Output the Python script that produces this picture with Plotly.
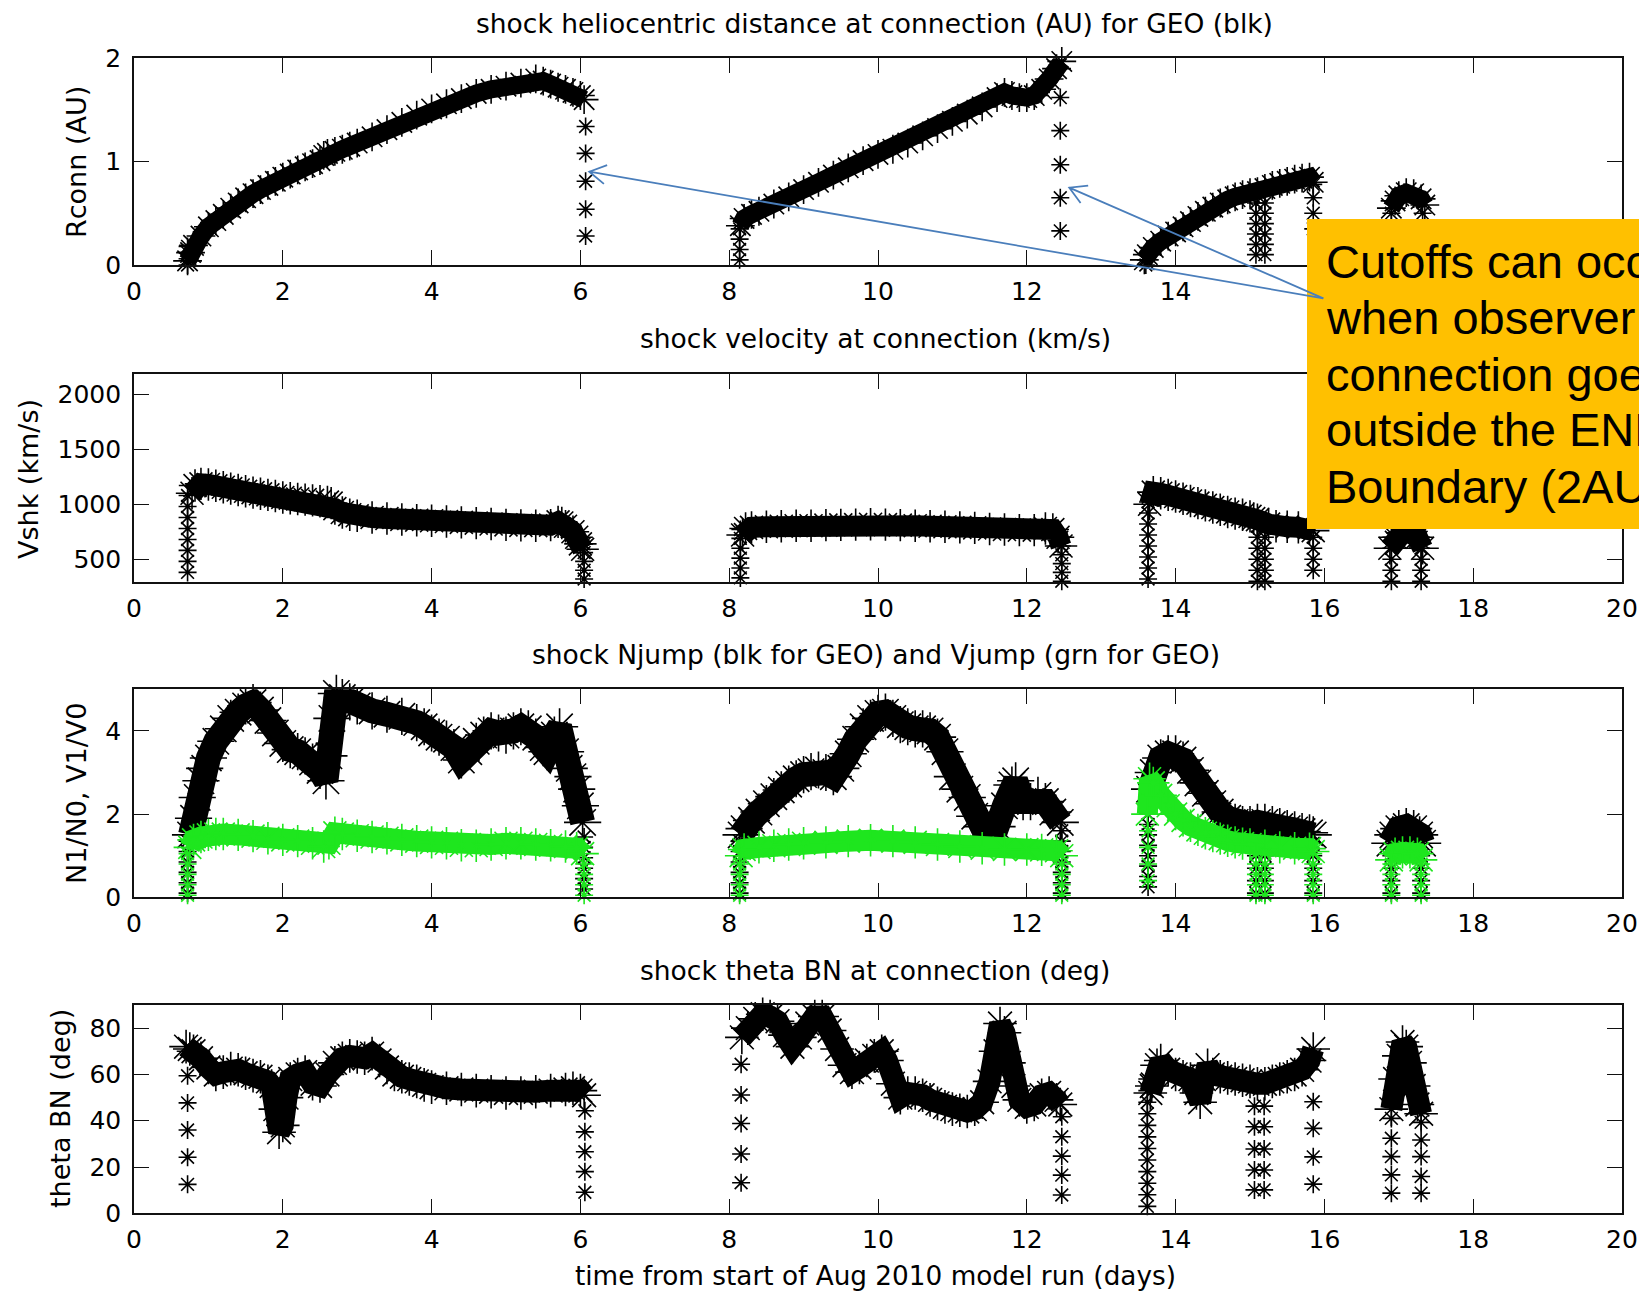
import math
import plotly.graph_objects as go

# ======================= DATA =======================
day_ticks = [0, 2, 4, 6, 8, 10, 12, 14, 16, 18, 20]

# --- Panel 1: shock heliocentric distance at connection (AU) ---
rconn_days = [0.72, 0.76, 0.80, 0.90, 1.00, 1.10, 1.20, 1.30, 1.40, 1.50, 1.60, 1.70, 1.80, 1.90, 2.00,
              2.10, 2.20, 2.30, 2.40, 2.50, 2.55, 2.60, 2.70, 2.80, 2.90, 3.00, 3.20, 3.40, 3.60, 3.80,
              4.00, 4.20, 4.40, 4.60, 4.80, 5.00, 5.20, 5.40, 5.50, 5.60, 5.70, 5.80, 5.90, 6.00, 6.05, None,
              8.15, 8.20, 8.30, 8.40, 8.60, 8.80, 9.00, 9.20, 9.40, 9.60, 9.80, 10.00, 10.20, 10.40, 10.60,
              10.80, 11.00, 11.20, 11.40, 11.60, 11.70, 11.80, 11.90, 12.00, 12.10, 12.20, 12.30, 12.40, 12.47, None,
              13.58, 13.62, 13.70, 13.80, 13.90, 14.00, 14.10, 14.20, 14.30, 14.40, 14.50, 14.60, 14.70, 14.80,
              14.90, 15.00, 15.10, 15.20, 15.30, 15.40, 15.50, 15.60, 15.70, 15.80, 15.85, None,
              16.90, 16.95, 17.00, 17.10, 17.20, 17.30, 17.35]
rconn_au = [0.04, 0.12, 0.19, 0.28, 0.37, 0.43, 0.49, 0.55, 0.60, 0.65, 0.69, 0.73, 0.77, 0.81, 0.85,
            0.88, 0.92, 0.95, 0.98, 1.01, 1.06, 1.08, 1.10, 1.12, 1.15, 1.18, 1.24, 1.31, 1.38, 1.45,
            1.51, 1.56, 1.61, 1.66, 1.70, 1.73, 1.76, 1.80, 1.78, 1.75, 1.72, 1.70, 1.67, 1.64, 1.60, None,
            0.38, 0.45, 0.49, 0.52, 0.59, 0.66, 0.73, 0.80, 0.87, 0.94, 1.01, 1.07, 1.12, 1.18, 1.25,
            1.32, 1.39, 1.46, 1.53, 1.62, 1.67, 1.64, 1.62, 1.62, 1.64, 1.70, 1.80, 1.90, 1.97, None,
            0.05, 0.10, 0.17, 0.23, 0.28, 0.32, 0.37, 0.42, 0.47, 0.52, 0.56, 0.60, 0.63, 0.66,
            0.68, 0.70, 0.71, 0.74, 0.77, 0.79, 0.81, 0.83, 0.84, 0.85, 0.80, None,
            0.55, 0.62, 0.67, 0.70, 0.69, 0.64, 0.58]
rconn_cut_days = [0.72, 6.07, 8.14, 12.45, 13.60, 15.08, 15.20, 15.85, 16.90, 17.32]
rconn_cut_au = [[0.00, 0.06, 0.12, 0.18], [1.34, 1.08, 0.81, 0.54, 0.28], [0.05, 0.15, 0.25, 0.35],
                [1.62, 1.30, 0.97, 0.65, 0.33], [0.00, 0.05], [0.10, 0.20, 0.30, 0.40, 0.50, 0.60],
                [0.10, 0.20, 0.30, 0.40, 0.50, 0.60], [0.35, 0.50, 0.65, 0.78], [0.20, 0.35, 0.50],
                [0.20, 0.35, 0.50]]

# --- Panel 2: shock velocity at connection (km/s) ---
vshk_days = [0.78, 0.82, 0.90, 1.00, 1.10, 1.20, 1.30, 1.40, 1.50, 1.60, 1.70, 1.80, 1.90, 2.00, 2.10,
             2.20, 2.30, 2.40, 2.50, 2.60, 2.65, 2.70, 2.80, 2.90, 3.00, 3.20, 3.40, 3.60, 3.80, 4.00,
             4.20, 4.40, 4.60, 4.80, 5.00, 5.20, 5.40, 5.60, 5.70, 5.75, 5.80, 5.90, 5.95, 6.00, 6.03, None,
             8.18, 8.22, 8.30, 8.50, 8.70, 8.90, 9.10, 9.30, 9.50, 9.70, 9.90, 10.10, 10.30, 10.50, 10.70,
             10.90, 11.10, 11.30, 11.50, 11.70, 11.90, 12.10, 12.25, 12.35, 12.42, 12.46, None,
             13.65, 13.70, 13.80, 13.90, 14.00, 14.10, 14.20, 14.30, 14.40, 14.50, 14.60, 14.70, 14.80,
             14.90, 15.00, 15.05, 15.10, 15.25, 15.35, 15.50, 15.65, 15.80, 15.85, None,
             16.88, 16.95, 17.05, 17.15, 17.25, 17.32]
vshk_kms = [1100, 1170, 1185, 1180, 1168, 1155, 1142, 1130, 1118, 1106, 1095, 1085, 1075, 1062, 1055,
            1048, 1042, 1035, 1028, 1020, 1010, 960, 925, 905, 895, 880, 870, 862, 855, 850,
            843, 835, 828, 820, 812, 808, 805, 810, 840, 830, 800, 750, 700, 640, 590, None,
            720, 780, 790, 795, 800, 805, 805, 810, 812, 815, 818, 815, 810, 805, 800,
            795, 790, 785, 775, 770, 765, 765, 780, 770, 700, 620, None,
            1000, 1110, 1100, 1085, 1070, 1050, 1030, 1010, 990, 970, 950, 930, 915,
            905, 890, 870, 860, 820, 800, 795, 790, 785, 760, None,
            600, 700, 740, 740, 700, 600]
vshk_cut_days = [0.72, 6.05, 8.15, 12.47, 13.63, 15.10, 15.20, 15.85, 16.90, 17.30]
vshk_cut_kms = [[380, 480, 580, 680, 780, 880, 980, 1080], [640, 560, 480, 400, 320],
                [330, 420, 510, 600, 690, 770], [700, 620, 540, 460, 380, 300],
                [320, 420, 520, 620, 720, 820, 920, 1020], [300, 400, 500, 600, 700, 800],
                [300, 400, 500, 600, 700, 800], [400, 500, 600, 700], [300, 400, 500, 600, 700],
                [300, 400, 500, 600, 700]]

# --- Panel 3: Njump (black) and Vjump (green) ---
njump_days = [0.76, 0.80, 0.85, 0.90, 0.95, 1.00, 1.10, 1.20, 1.30, 1.40, 1.50, 1.60, 1.70, 1.80, 1.90,
              2.00, 2.10, 2.20, 2.30, 2.40, 2.50, 2.58, 2.62, 2.66, 2.72, 2.80, 2.90, 3.00, 3.20, 3.40,
              3.60, 3.80, 3.90, 4.00, 4.10, 4.20, 4.30, 4.40, 4.50, 4.60, 4.70, 4.80, 4.90, 5.00, 5.10,
              5.20, 5.30, 5.40, 5.50, 5.55, 5.65, 5.72, 5.80, 5.85, 5.90, 5.95, 6.00, 6.03, None,
              8.16, 8.20, 8.30, 8.40, 8.50, 8.60, 8.70, 8.80, 8.90, 9.00, 9.10, 9.20, 9.30, 9.40, 9.50,
              9.60, 9.70, 9.80, 9.90, 10.00, 10.10, 10.20, 10.30, 10.40, 10.50, 10.60, 10.70, 10.80,
              10.90, 11.00, 11.10, 11.20, 11.30, 11.40, 11.50, 11.60, 11.70, 11.80, 11.85, 11.95,
              12.05, 12.15, 12.25, 12.35, 12.45, None,
              13.65, 13.70, 13.80, 13.90, 14.00, 14.10, 14.20, 14.30, 14.40, 14.50, 14.60, 14.70,
              14.80, 14.90, 15.00, 15.10, 15.20, 15.30, 15.40, 15.50, 15.60, 15.70, 15.80, 15.85, None,
              16.88, 16.92, 17.00, 17.10, 17.20, 17.28, 17.32]
njump_ratio = [1.5, 1.9, 2.4, 2.8, 3.1, 3.35, 3.75, 4.05, 4.3, 4.45, 4.6, 4.68, 4.5, 4.25, 3.95,
               3.7, 3.55, 3.5, 3.4, 3.25, 3.05, 2.8, 3.4, 4.3, 4.9, 4.8, 4.7, 4.6, 4.48, 4.4,
               4.35, 4.2, 4.1, 3.95, 3.85, 3.8, 3.6, 3.3, 3.5, 3.75, 3.9, 4.0, 3.95, 3.9, 4.0,
               4.1, 4.05, 3.85, 3.6, 3.5, 3.9, 4.1, 3.5, 3.1, 2.9, 2.6, 2.2, 1.8, None,
               1.5, 1.65, 1.85, 2.05, 2.25, 2.42, 2.58, 2.72, 2.85, 2.95, 3.02, 3.06, 3.0, 2.9, 3.1,
               3.45, 3.8, 4.1, 4.3, 4.42, 4.45, 4.3, 4.15, 4.1, 4.05, 4.05, 4.0, 3.85,
               3.5, 2.9, 2.6, 2.4, 1.95, 1.7, 1.62, 1.7, 2.2, 2.7, 2.8, 2.3,
               2.3, 2.45, 2.3, 2.05, 1.8, None,
               2.6, 3.0, 3.35, 3.45, 3.45, 3.3, 3.05, 2.75, 2.5, 2.25, 2.05, 1.9,
               1.8, 1.75, 1.75, 1.8, 1.8, 1.75, 1.7, 1.65, 1.62, 1.58, 1.55, 1.5, None,
               1.3, 1.5, 1.65, 1.7, 1.65, 1.5, 1.3]
vjump_days = [0.75, 0.80, 0.90, 1.00, 1.10, 1.20, 1.40, 1.60, 1.80, 2.00, 2.20, 2.40, 2.55, 2.62, 2.70,
              2.80, 3.00, 3.20, 3.40, 3.60, 3.80, 4.00, 4.20, 4.40, 4.60, 4.80, 5.00, 5.20, 5.40, 5.60,
              5.80, 5.95, 6.03, None,
              8.16, 8.20, 8.40, 8.60, 8.80, 9.00, 9.30, 9.60, 9.90, 10.20, 10.50, 10.80, 11.10, 11.40,
              11.70, 12.00, 12.20, 12.40, 12.47, None,
              13.62, 13.65, 13.70, 13.80, 13.90, 14.00, 14.10, 14.20, 14.30, 14.40, 14.50, 14.60, 14.70,
              14.80, 14.90, 15.00, 15.20, 15.40, 15.60, 15.80, 15.85, None,
              16.90, 16.95, 17.05, 17.15, 17.25, 17.30]
vjump_ratio = [1.2, 1.38, 1.45, 1.5, 1.52, 1.52, 1.5, 1.47, 1.42, 1.38, 1.35, 1.3, 1.22, 1.3, 1.55,
               1.52, 1.48, 1.45, 1.42, 1.38, 1.35, 1.32, 1.3, 1.25, 1.24, 1.27, 1.3, 1.3, 1.27, 1.25,
               1.22, 1.18, 1.05, None,
               1.0, 1.15, 1.2, 1.24, 1.27, 1.3, 1.32, 1.35, 1.37, 1.35, 1.32, 1.27, 1.22, 1.18,
               1.15, 1.15, 1.14, 1.12, 1.0, None,
               2.0, 2.85, 2.75, 2.45, 2.2, 2.0, 1.85, 1.72, 1.62, 1.54, 1.47, 1.41, 1.36,
               1.32, 1.29, 1.27, 1.24, 1.2, 1.18, 1.17, 1.1, None,
               0.9, 1.05, 1.08, 1.08, 1.05, 0.9]
njump_cut_days = [0.72, 6.05, 8.14, 12.47, 13.63, 15.08, 15.20, 15.85, 16.90, 17.30]
njump_cut_ratio = [[0.1, 0.35, 0.6, 0.85, 1.1, 1.35], [0.2, 0.45, 0.7, 0.95, 1.2, 1.45],
                   [0.1, 0.35, 0.6, 0.85, 1.1, 1.35], [0.1, 0.35, 0.6, 0.85, 1.1, 1.35, 1.6],
                   [0.25, 0.5, 0.75, 1.0, 1.25, 1.5, 1.75, 2.0, 2.25], [0.1, 0.4, 0.7, 1.0, 1.3, 1.6],
                   [0.1, 0.4, 0.7, 1.0, 1.3, 1.6], [0.1, 0.4, 0.7, 1.0, 1.3], [0.1, 0.4, 0.7, 1.0],
                   [0.1, 0.4, 0.7, 1.0]]
vjump_cut_days = [0.72, 6.05, 8.14, 12.47, 13.63, 15.08, 15.20, 15.85, 16.90, 17.30]
vjump_cut_ratio = [[0.05, 0.3, 0.55, 0.8, 1.05], [0.05, 0.3, 0.55, 0.8], [0.05, 0.3, 0.55, 0.8],
                   [0.05, 0.3, 0.55, 0.8], [0.4, 0.8, 1.2, 1.6], [0.05, 0.3, 0.55, 0.8, 1.05],
                   [0.05, 0.3, 0.55, 0.8, 1.05], [0.05, 0.3, 0.55, 0.8, 1.05], [0.05, 0.3, 0.55, 0.8],
                   [0.05, 0.3, 0.55, 0.8]]

# --- Panel 4: shock theta BN at connection (deg) ---
theta_days = [0.70, 0.75, 0.80, 0.90, 1.00, 1.10, 1.20, 1.30, 1.40, 1.50, 1.60, 1.70, 1.80, 1.85, 1.90,
              1.95, 2.00, 2.05, 2.10, 2.20, 2.30, 2.40, 2.50, 2.60, 2.70, 2.80, 2.90, 3.00, 3.10, 3.20,
              3.30, 3.40, 3.50, 3.60, 3.70, 3.80, 3.90, 4.00, 4.20, 4.40, 4.60, 4.80, 5.00, 5.20, 5.40,
              5.60, 5.80, 5.90, 6.00, 6.05, None,
              8.17, 8.25, 8.35, 8.45, 8.55, 8.65, 8.75, 8.85, 8.95, 9.05, 9.15, 9.25, 9.35, 9.45, 9.55,
              9.65, 9.75, 9.85, 9.95, 10.05, 10.12, 10.20, 10.30, 10.40, 10.50, 10.60, 10.70, 10.80,
              10.90, 11.00, 11.10, 11.20, 11.30, 11.40, 11.50, 11.58, 11.64, 11.70, 11.76, 11.82,
              11.90, 12.00, 12.10, 12.20, 12.30, 12.40, 12.45, None,
              13.66, 13.68, 13.75, 13.80, 13.90, 14.00, 14.10, 14.20, 14.28, 14.33, 14.38, 14.43, 14.50,
              14.60, 14.70, 14.80, 14.90, 15.00, 15.10, 15.20, 15.30, 15.40, 15.50, 15.60, 15.70,
              15.80, 15.85, None,
              16.90, 16.95, 17.00, 17.05, 17.10, 17.15, 17.20, 17.25, 17.30]
theta_deg = [72, 71, 70, 67, 63, 60, 61, 62.5, 62, 60.5, 59.5, 59, 57, 55, 45,
             35, 38, 50, 58, 60, 61, 56, 55, 60, 65, 67, 68, 67.5, 67, 69,
             66, 63, 60, 59, 58, 57, 55.5, 54.5, 54, 53.5, 53, 52.5, 52, 52, 52.5,
             53, 53.5, 54, 53, 51, None,
             76, 80, 84, 86, 85, 83, 77, 72, 76, 82, 85, 85, 79, 71, 64,
             61, 63, 66, 68, 70, 66, 56, 50, 52, 52, 51, 49, 47.5,
             46, 45, 44.5, 44, 45, 48, 57, 70, 82, 78, 65, 55,
             49, 46, 47, 51, 52, 49, 47, None,
             52, 55, 64, 66, 62, 60, 59, 58, 52, 48, 58, 64, 60,
             59, 58.5, 58, 57.5, 57, 56, 56, 57, 58, 59, 60, 62,
             66, 71, None,
             45, 58, 68, 74, 72, 65, 55, 47, 43]
theta_cut_days = [0.72, 6.06, 8.16, 12.47, 13.62, 15.06, 15.19, 15.85, 16.90, 17.30]
theta_cut_deg = [[59.4, 47.7, 36.0, 24.2, 12.5], [44.3, 35.2, 26.6, 18.0, 9.1],
                 [64.4, 51.1, 38.8, 25.6, 13.2], [41.7, 33.1, 24.7, 16.5, 7.9],
                 [3, 8, 13, 18, 23, 28, 33, 38, 43, 48, 53, 58], [46.3, 37.4, 27.8, 18.7, 10.1],
                 [46.3, 37.4, 27.8, 18.7, 10.1], [48.2, 36.7, 24.4, 12.6],
                 [41.0, 32.4, 24.5, 16.6, 8.7], [39.3, 31.7, 24.5, 15.9, 8.7]]

panel_titles = ["shock heliocentric distance at connection (AU) for GEO (blk)",
                "shock velocity at connection (km/s)",
                "shock Njump (blk for GEO) and Vjump (grn for GEO)",
                "shock theta BN at connection (deg)"]
y_titles = ["Rconn (AU)", "Vshk (km/s)", "N1/N0, V1/V0", "theta BN (deg)"]
x_title = "time from start of Aug 2010 model run (days)"
y_ranges = [[0, 2], [290, 2185], [0, 5], [0, 90]]
y_tickvals = [[0, 1, 2], [500, 1000, 1500, 2000], [0, 2, 4], [0, 20, 40, 60, 80]]
callout_lines = ["Cutoffs can occur", "when observer", "connection goes",
                 "outside the ENLIL", "Boundary (2AU)"]

# ======================= STYLE / LAYOUT =======================
W, H = 1639, 1293
FONT = "DejaVu Sans"
BLACK = "#000000"
GREEN = "#1EE61E"
ORANGE = "#FFC000"
BLUE = "#4A7EBB"

PLOT_L, PLOT_R = 134.0, 1622.0
PANEL_PX = [(58.3, 265.0), (374.0, 582.3), (689.3, 897.3), (1005.0, 1213.3)]


def px(x):
    return x / W


def py(y):
    return 1 - y / H


def flatten_cuts(days, cols):
    xs, ys = [], []
    for d, col in zip(days, cols):
        for v in col:
            xs.append(d)
            ys.append(v)
    return xs, ys


for a, b in [(rconn_days, rconn_au), (vshk_days, vshk_kms), (njump_days, njump_ratio),
             (vjump_days, vjump_ratio), (theta_days, theta_deg)]:
    assert len(a) == len(b), (len(a), len(b))

fig = go.Figure()


def band(xs, ys, i, color, lw, ms):
    fig.add_trace(go.Scatter(
        x=xs, y=ys, xaxis=f"x{i}", yaxis=f"y{i}", mode="lines+markers",
        line=dict(color=color, width=lw), connectgaps=False, cliponaxis=False,
        marker=dict(symbol="asterisk-open", size=ms, color=color, line=dict(width=1.6, color=color)),
        showlegend=False, hoverinfo="skip"))


def cuts(days, cols, i, color, ms=15):
    xs, ys = flatten_cuts(days, cols)
    fig.add_trace(go.Scatter(
        x=xs, y=ys, xaxis=f"x{i}", yaxis=f"y{i}", mode="markers", cliponaxis=False,
        marker=dict(symbol="asterisk-open", size=ms, color=color, line=dict(width=1.6, color=color)),
        showlegend=False, hoverinfo="skip"))


band(rconn_days, rconn_au, 1, BLACK, 18, 24)
cuts(rconn_cut_days, rconn_cut_au, 1, BLACK)
band(vshk_days, vshk_kms, 2, BLACK, 21, 27)
cuts(vshk_cut_days, vshk_cut_kms, 2, BLACK)
band(njump_days, njump_ratio, 3, BLACK, 25, 31)
cuts(njump_cut_days, njump_cut_ratio, 3, BLACK)
band(vjump_days, vjump_ratio, 3, GREEN, 21, 27)
cuts(vjump_cut_days, vjump_cut_ratio, 3, GREEN)
band(theta_days, theta_deg, 4, BLACK, 22, 28)
cuts(theta_cut_days, theta_cut_deg, 4, BLACK)

axis_common = dict(showline=True, linecolor="#111111", linewidth=1.6, mirror="ticks",
                   ticks="inside", ticklen=15, tickwidth=1.3, tickcolor="#111111",
                   showgrid=False, zeroline=False, automargin=False, fixedrange=True,
                   tickfont=dict(family=FONT, size=25, color=BLACK))

layout = dict(width=W, height=H, autosize=False,
              margin=dict(l=0, r=0, t=0, b=0, pad=0),
              paper_bgcolor="white", plot_bgcolor="white", showlegend=False)

for i, (top, bot) in enumerate(PANEL_PX, start=1):
    layout[f"xaxis{i}" if i > 1 else "xaxis"] = dict(
        axis_common, domain=[px(PLOT_L), px(PLOT_R)], anchor=f"y{i}" if i > 1 else "y",
        range=[0, 20], tickvals=day_ticks, ticktext=[str(t) for t in day_ticks],
        ticklabelstandoff=3)
    layout[f"yaxis{i}" if i > 1 else "yaxis"] = dict(
        axis_common, domain=[py(bot), py(top)], anchor=f"x{i}" if i > 1 else "x",
        range=y_ranges[i - 1], tickvals=y_tickvals[i - 1],
        ticktext=[str(t) for t in y_tickvals[i - 1]], ticklabelstandoff=6)

annotations = []
title_px = [(875, 23), (875.5, 339), (875.5, 655), (875, 970)]
for t, (x, y) in zip(panel_titles, title_px):
    annotations.append(dict(text=t, x=px(x), y=py(y), xref="paper", yref="paper",
                            xanchor="center", yanchor="middle", showarrow=False,
                            font=dict(family=FONT, size=26.5, color=BLACK)))
ytitle_px = [(77, 162), (29, 479), (76, 794), (60, 1109)]
for t, (x, y) in zip(y_titles, ytitle_px):
    annotations.append(dict(text=t, x=px(x), y=py(y), xref="paper", yref="paper",
                            xanchor="center", yanchor="middle", showarrow=False, textangle=-90,
                            font=dict(family=FONT, size=27, color=BLACK)))
annotations.append(dict(text=x_title, x=px(875.5), y=py(1276), xref="paper", yref="paper",
                        xanchor="center", yanchor="middle", showarrow=False,
                        font=dict(family=FONT, size=26.3, color=BLACK)))
callout_y = [261.5, 317.5, 374.0, 430.0, 486.0]
for t, y in zip(callout_lines, callout_y):
    annotations.append(dict(text=t, x=px(1325), y=py(y), xref="paper", yref="paper",
                            xanchor="left", yanchor="middle", align="left", showarrow=False,
                            borderpad=0, font=dict(family="Liberation Sans, Arial", size=47, color=BLACK)))
layout["annotations"] = annotations

# callout box + arrows
shapes = [dict(type="rect", xref="paper", yref="paper", x0=px(1307), x1=px(1700),
               y0=py(529), y1=py(219), fillcolor=ORANGE, line=dict(width=0), layer="above")]


def arrow(tail, tip, head=19, ang=30):
    dx, dy = tail[0] - tip[0], tail[1] - tip[1]
    n = math.hypot(dx, dy)
    ux, uy = dx / n, dy / n
    pts = []
    for s in (-1, 1):
        a = math.radians(ang) * s
        rx = ux * math.cos(a) - uy * math.sin(a)
        ry = ux * math.sin(a) + uy * math.cos(a)
        pts.append((tip[0] + head * rx, tip[1] + head * ry))
    p = (f"M{px(tail[0])},{py(tail[1])} L{px(tip[0])},{py(tip[1])} "
         f"M{px(pts[0][0])},{py(pts[0][1])} L{px(tip[0])},{py(tip[1])} L{px(pts[1][0])},{py(pts[1][1])}")
    return dict(type="path", xref="paper", yref="paper", path=p,
                line=dict(color=BLUE, width=1.8), layer="above")


shapes.append(arrow((1323.3, 298.3), (589.3, 171.7)))
shapes.append(arrow((1323.3, 298.3), (1069.3, 187.7)))
layout["shapes"] = shapes

fig.update_layout(layout)
fig.write_html("out.html", config={"displayModeBar": False},
               post_script="document.body.style.margin='0';document.body.style.overflow='hidden';")
